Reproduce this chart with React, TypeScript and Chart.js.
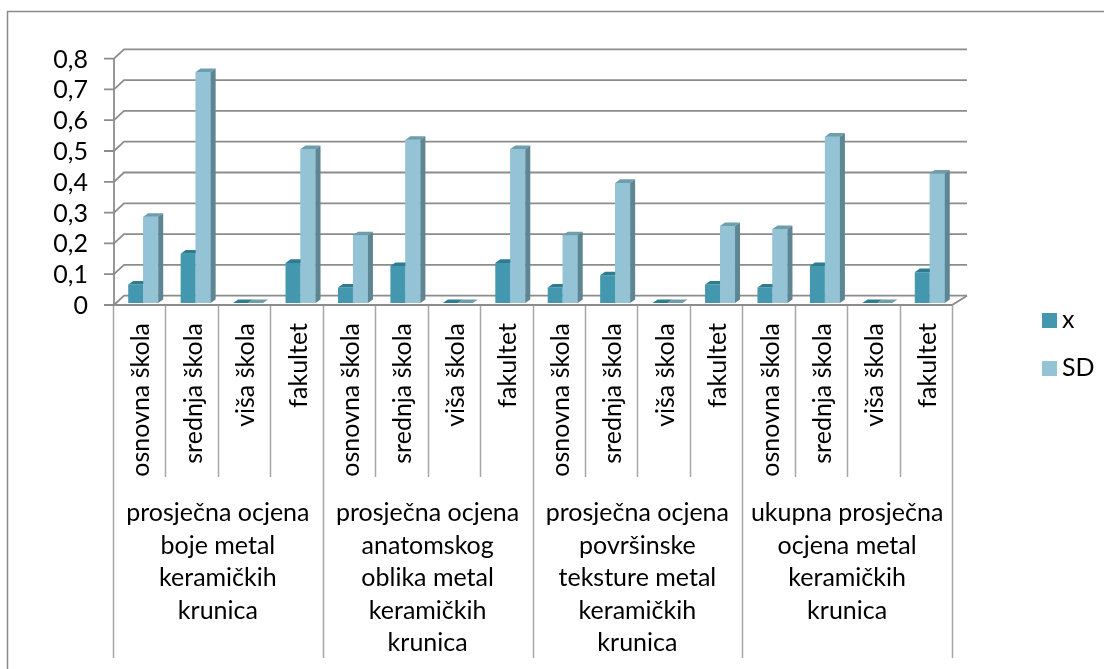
import React, { useEffect, useRef } from "react";
import { Chart, registerables } from "chart.js";

Chart.register(...registerables);

const levelLabels = ["osnovna škola", "srednja škola", "viša škola", "fakultet"];
const groupLabels: string[][] = [
  ["prosječna ocjena", "boje metal", "keramičkih", "krunica"],
  ["prosječna ocjena", "anatomskog", "oblika metal", "keramičkih", "krunica"],
  ["prosječna ocjena", "površinske", "teksture metal", "keramičkih", "krunica"],
  ["ukupna prosječna", "ocjena metal", "keramičkih", "krunica"],
];
const categories: string[] = groupLabels.flatMap(() => levelLabels);
const seriesX = [0.06, 0.16, 0, 0.13, 0.05, 0.12, 0, 0.13, 0.05, 0.09, 0, 0.06, 0.05, 0.12, 0, 0.1];
const seriesSD = [0.28, 0.75, 0, 0.5, 0.22, 0.53, 0, 0.5, 0.22, 0.39, 0, 0.25, 0.24, 0.54, 0, 0.42];
const yTicks = [0, 0.1, 0.2, 0.3, 0.4, 0.5, 0.6, 0.7, 0.8];
const seriesNames = ["x", "SD"];

const FONT = "Lato, 'Noto Sans', sans-serif";
const FS = 25;
const COL_X = "#4398B0";
const COL_SD = "#93C3D5";
const COL_X_TOP = "#2F7B8F";
const COL_SD_TOP = "#6E9DAC";
const COL_SD_SIDE = "#5E8692";
const GRID = "#8C8C8C";
const SEP = "#A6A6A6";

const DX = 10, DY = -9.3; // wall depth
const BDX = 5, BDY = -3.6; // bar depth
const SHIFT_X = 4, SHIFT_Y = -2;

const deco = {
  id: "deco3d",
  beforeDatasetsDraw(chart: any) {
    const ctx = chart.ctx;
    const y = chart.scales.y;
    const xs = chart.scales.x;
    const { left, bottom, top } = chart.chartArea;
    const slot = xs.getPixelForValue(1) - xs.getPixelForValue(0);
    const x0 = xs.getPixelForValue(0) - slot / 2;
    const x1 = x0 + slot * categories.length;
    ctx.save();
    // outer border
    ctx.strokeStyle = "#8A8A8A";
    ctx.lineWidth = 1.5;
    ctx.beginPath();
    ctx.moveTo(7.5, 669);
    ctx.lineTo(7.5, 11.5);
    ctx.lineTo(1104, 11.5);
    ctx.stroke();

    // wall gridlines
    ctx.strokeStyle = GRID;
    ctx.lineWidth = 1.8;
    const ax = left + 1;
    yTicks.forEach((v) => {
      const py = y.getPixelForValue(v);
      ctx.beginPath();
      ctx.moveTo(ax - 10, py);
      ctx.lineTo(ax, py);
      ctx.lineTo(ax + DX, py + DY);
      ctx.lineTo(x1 + DX + 5, py + DY);
      ctx.stroke();
    });
    // front axis
    ctx.beginPath();
    ctx.moveTo(ax, top);
    ctx.lineTo(ax, bottom);
    ctx.stroke();
    // floor
    ctx.beginPath();
    ctx.moveTo(ax, bottom);
    ctx.lineTo(x1, bottom);
    ctx.lineTo(x1 + DX + 5, bottom + DY);
    ctx.stroke();

    // category separators
    ctx.strokeStyle = SEP;
    ctx.lineWidth = 1.5;
    for (let i = 0; i <= categories.length; i++) {
      const px = Math.round(x0 + i * slot) + 0.5;
      ctx.beginPath();
      ctx.moveTo(px, bottom + 1);
      ctx.lineTo(px, i % 4 === 0 ? 658 : 477);
      ctx.stroke();
    }

    // y tick labels
    ctx.fillStyle = "#000";
    ctx.font = `${FS}px ${FONT}`;
    ctx.textAlign = "right";
    ctx.textBaseline = "middle";
    yTicks.forEach((v) => {
      const t = v === 0 ? "0" : v.toFixed(1).replace(".", ",");
      ctx.fillText(t, 88, y.getPixelForValue(v) + 1);
    });

    // level labels (rotated)
    categories.forEach((c, i) => {
      const cx = xs.getPixelForValue(i);
      ctx.save();
      ctx.translate(cx + 2, 323);
      ctx.rotate(-Math.PI / 2);
      ctx.textAlign = "right";
      ctx.textBaseline = "middle";
      ctx.fillText(c, 0, 0);
      ctx.restore();
    });

    // group labels
    ctx.textAlign = "center";
    ctx.textBaseline = "middle";
    groupLabels.forEach((lines, g) => {
      const cx = x0 + (g * 4 + 2) * slot;
      lines.forEach((ln, k) => ctx.fillText(ln, cx, 513 + k * 32.5));
    });

    // legend
    ctx.textAlign = "left";
    [COL_X, COL_SD].forEach((c, k) => {
      ctx.fillStyle = c;
      ctx.fillRect(1042, 313 + k * 48, 15, 15);
      ctx.fillStyle = "#000";
      ctx.fillText(seriesNames[k], 1062, 320 + k * 48);
    });
    ctx.restore();

    ctx.save();
    ctx.translate(SHIFT_X, SHIFT_Y);
  },
  afterDatasetsDraw(chart: any) {
    const ctx = chart.ctx;
    const mx = chart.getDatasetMeta(0).data;
    const ms = chart.getDatasetMeta(1).data;
    const poly = (pts: number[][], fill: string) => {
      ctx.beginPath();
      ctx.moveTo(pts[0][0], pts[0][1]);
      for (let i = 1; i < pts.length; i++) ctx.lineTo(pts[i][0], pts[i][1]);
      ctx.closePath();
      ctx.fillStyle = fill;
      ctx.fill();
    };
    for (let i = 0; i < mx.length; i++) {
      const a = mx[i].getProps(["x", "y", "base", "width"], true);
      const b = ms[i].getProps(["x", "y", "base", "width"], true);
      const aL = a.x - a.width / 2, aR = a.x + a.width / 2;
      const bL = b.x - b.width / 2, bR = b.x + b.width / 2;
      poly([[aL, a.y], [aL + BDX, a.y + BDY], [aR + BDX, a.y + BDY], [aR, a.y]], COL_X_TOP);
      if (b.base - b.y > 0) {
        ctx.fillStyle = COL_SD;
        ctx.fillRect(bL, b.y, b.width, b.base - b.y);
      }
      poly([[bL, b.y], [bL + BDX, b.y + BDY], [bR + BDX, b.y + BDY], [bR, b.y]], COL_SD_TOP);
      poly([[bR, b.y], [bR + BDX, b.y + BDY], [bR + BDX, b.base + BDY], [bR, b.base]], COL_SD_SIDE);
    }
    ctx.restore();
  },
};

export default function App() {
  const ref = useRef<HTMLCanvasElement>(null);
  useEffect(() => {
    if (!ref.current) return;
    const chart = new Chart(ref.current, {
      type: "bar",
      data: {
        labels: categories,
        datasets: [
          { label: seriesNames[0], data: seriesX, backgroundColor: COL_X, borderWidth: 0 },
          { label: seriesNames[1], data: seriesSD, backgroundColor: COL_SD, borderWidth: 0 },
        ],
      },
      options: {
        animation: false,
        responsive: false,
        maintainAspectRatio: false,
        devicePixelRatio: 1,
        layout: { padding: { left: 113, right: 1104 - 952, top: 58.6, bottom: 669 - 305 } },
        plugins: { legend: { display: false }, tooltip: { enabled: false } },
        datasets: { bar: { categoryPercentage: 30 / 52.44, barPercentage: 1 } },
        scales: {
          x: { display: false, offset: true },
          y: { display: false, min: 0, max: 0.8 },
        },
      },
      plugins: [deco],
    });
    return () => chart.destroy();
  }, []);
  return (
    <div style={{ position: "fixed", left: 0, top: 0, width: 1104, height: 669, background: "#fff" }}>
      <canvas ref={ref} width={1104} height={669} style={{ width: 1104, height: 669, display: "block" }} />
    </div>
  );
}
